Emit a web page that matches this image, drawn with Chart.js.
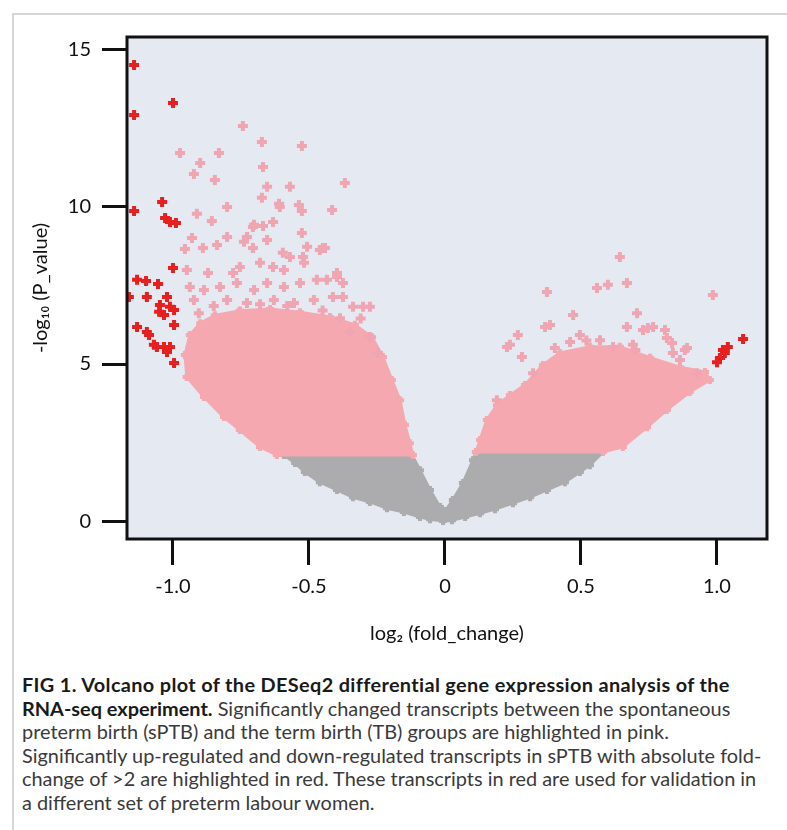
<!DOCTYPE html>
<html>
<head>
<meta charset="utf-8">
<script src="https://cdn.jsdelivr.net/npm/chart.js@4.4.1/dist/chart.umd.min.js"></script>
<style>
  html, body { margin: 0; padding: 0; background: #ffffff; }
  body { width: 787px; height: 830px; position: relative; overflow: hidden; }
  #frame { position: absolute; left: 12px; top: 13px; width: 800px; height: 840px;
           border-top: 2px solid #d6d6d6; border-left: 2px solid #d6d6d6; }
  #wrap { position: absolute; left: 0; top: 0; width: 787px; height: 660px; }
  #caption { position: absolute; left: 22px; top: 673px; font-family: Lato, "Open Sans", sans-serif;
             font-size: 19.9px; line-height: 23.6px; color: #3a3a3a; white-space: nowrap; }
  #caption .b { font-weight: 700; color: #1a1a1a; }
  #caption .l1 { letter-spacing: 0.35px; }
</style>
</head>
<body>
<div id="frame"></div>
<div id="wrap"><canvas id="c" width="787" height="660"></canvas></div>
<div id="caption">
  <div class="l1"><span class="b">FIG 1. Volcano plot of the DESeq2 differential gene expression analysis of the</span></div>
  <div><span class="b">RNA-seq experiment.</span> Significantly changed transcripts between the spontaneous</div>
  <div>preterm birth (sPTB) and the term birth (TB) groups are highlighted in pink.</div>
  <div>Significantly up-regulated and down-regulated transcripts in sPTB with absolute fold-</div>
  <div>change of &gt;2 are highlighted in red. These transcripts in red are used for validation in</div>
  <div>a different set of preterm labour women.</div>
</div>
<script>
// ---- tick labels ----
const xTickValues = [-1, -0.5, 0, 0.5, 1];
const xTickLabels = ['-1.0', '-0.5', '0', '0.5', '1.0'];
const yTickValues = [0, 5, 10, 15];
const yTickLabels = ['0', '5', '10', '15'];

// ---- non-significant transcripts (dense grey band), outline [log2FC, -log10 p] ----
const greyRegion = [
  [-0.592, 2.10], [-0.121, 2.10], [-0.092, 1.62], [-0.055, 0.99], [-0.018, 0.45], [0.0, 0.32],
  [0.029, 0.67], [0.066, 1.21], [0.103, 1.94], [0.114, 2.20], [0.581, 2.20], [0.533, 1.78],
  [0.496, 1.56], [0.441, 1.24], [0.375, 0.99], [0.313, 0.76], [0.25, 0.57], [0.184, 0.38],
  [0.129, 0.25], [0.074, 0.13], [0.026, 0.03], [-0.007, 0.0], [-0.055, 0.06], [-0.092, 0.13],
  [-0.151, 0.29], [-0.213, 0.41], [-0.276, 0.61], [-0.338, 0.76], [-0.397, 0.99], [-0.46, 1.24],
  [-0.515, 1.56], [-0.551, 1.85], [-0.592, 2.10]
];

// ---- significant transcripts, dense pink clouds (outlines) ----
const pinkRegionLeft = [
  [-0.949, 4.59], [-0.956, 5.29], [-0.938, 5.92], [-0.90, 6.30], [-0.846, 6.55], [-0.754, 6.70],
  [-0.643, 6.75], [-0.533, 6.65], [-0.423, 6.50], [-0.331, 6.25], [-0.268, 5.85], [-0.228, 5.22],
  [-0.195, 4.49], [-0.165, 3.85], [-0.147, 3.06], [-0.129, 2.48], [-0.118, 2.10], [-0.618, 2.10],
  [-0.68, 2.36], [-0.754, 2.90], [-0.8125, 3.31], [-0.886, 3.95], [-0.949, 4.59]
];
const pinkRegionRight = [
  [0.114, 2.20], [0.129, 2.58], [0.154, 3.22], [0.191, 3.69], [0.239, 4.01], [0.294, 4.33],
  [0.36, 4.97], [0.423, 5.35], [0.533, 5.55], [0.643, 5.55], [0.754, 5.20], [0.864, 4.90],
  [0.956, 4.75], [0.974, 4.49], [0.90, 4.11], [0.816, 3.54], [0.743, 2.99], [0.654, 2.36],
  [0.581, 2.20], [0.114, 2.20]
];

// ---- significant transcripts, individual pink points ----
const pinkPoints = [
  [-0.743, 12.58], [-0.673, 12.07], [-0.526, 11.94], [-0.974, 11.72], [-0.831, 11.72], [-0.90, 11.40],
  [-0.923, 11.05], [-0.846, 10.86], [-0.669, 11.27], [-0.654, 10.64], [-0.57, 10.64], [-0.368, 10.76],
  [-0.673, 10.29], [-0.61, 10.10], [-0.537, 10.06], [-0.415, 9.90], [-0.526, 9.87], [-0.912, 9.78],
  [-0.857, 9.55], [-0.801, 10.0], [-0.706, 9.36], [-0.669, 9.39], [-0.632, 9.52], [-0.93, 9.01],
  [-0.801, 9.04], [-0.728, 9.04], [-0.654, 8.95], [-0.526, 9.17], [-0.449, 8.69], [-0.956, 8.66],
  [-0.89, 8.69], [-0.838, 8.79], [-0.706, 8.69], [-0.596, 8.54], [-0.68, 8.22], [-0.632, 8.09],
  [-0.522, 8.41], [-0.397, 7.77], [-0.375, 7.58], [-0.871, 7.90], [-0.779, 7.90], [-0.949, 7.99],
  [-0.702, 9.43], [-0.607, 10.0], [-0.739, 8.89], [-0.57, 8.41], [-0.507, 8.73], [-0.46, 8.63],
  [-0.754, 8.09], [-0.592, 7.99], [-0.518, 8.22], [-0.938, 7.45], [-0.886, 7.36], [-0.827, 7.45],
  [-0.765, 7.58], [-0.702, 7.36], [-0.654, 7.58], [-0.592, 7.45], [-0.533, 7.58], [-0.471, 7.68],
  [-0.923, 7.04], [-0.801, 7.04], [-0.728, 6.94], [-0.629, 7.04], [-0.555, 6.94], [-0.482, 7.04],
  [-0.441, 8.69], [-0.397, 7.90], [-0.434, 7.68], [-0.412, 7.13], [-0.375, 7.13], [-0.338, 6.82],
  [-0.301, 6.82], [-0.276, 6.82], [-0.386, 6.46], [-0.349, 6.02], [-0.276, 5.86], [-0.246, 5.35],
  [-0.905, 6.62], [-0.85, 6.85], [-0.68, 6.90], [-0.58, 6.85], [-0.45, 6.70], [-0.31, 6.45],
  [0.643, 8.41], [0.559, 7.42], [0.599, 7.52], [0.669, 7.58], [0.375, 7.29], [0.985, 7.20],
  [0.471, 6.56], [0.706, 6.62], [0.368, 6.18], [0.669, 6.18], [0.728, 6.08], [0.765, 6.18],
  [0.809, 6.08], [0.816, 5.83], [0.268, 5.92], [0.239, 5.61], [0.283, 5.22], [0.324, 4.71],
  [0.404, 5.51], [0.496, 5.92], [0.57, 5.76], [0.618, 5.54], [0.691, 5.61], [0.838, 5.35],
  [0.882, 5.45], [0.926, 4.71], [0.864, 5.13], [0.191, 3.85], [0.386, 6.24], [0.746, 6.15],
  [0.835, 5.67], [0.89, 5.51], [0.228, 5.54], [0.46, 5.70], [0.52, 5.75], [0.70, 5.45]
];

// ---- |fold change| > 2 transcripts (red) ----
const redPoints = [
  [-1.143, 14.52], [-1.0, 13.31], [-1.143, 12.93], [-1.04, 10.16], [-1.143, 9.87], [-1.029, 9.65],
  [-1.011, 9.52], [-0.989, 9.49], [-1.0, 8.06], [-1.132, 7.68], [-1.099, 7.64], [-1.055, 7.55],
  [-1.162, 7.13], [-1.096, 7.13], [-1.022, 7.13], [-1.048, 6.88], [-1.011, 6.82], [-1.051, 6.66],
  [-1.033, 6.56], [-0.996, 6.72], [-0.996, 6.24], [-1.132, 6.18], [-1.096, 6.02], [-1.088, 5.92],
  [-1.07, 5.61], [-1.033, 5.54], [-1.011, 5.54], [-1.022, 5.38], [-0.996, 5.03], [-1.059, 5.54],
  [1.096, 5.80], [1.04, 5.54], [1.029, 5.35], [1.011, 5.19], [1.0, 5.06], [1.022, 5.45]
];

const toXY = arr => arr.map(p => ({ x: p[0], y: p[1] }));

const PLOT_BG = 'rgb(228,233,242)';
const GREY = 'rgb(172,172,174)';
const PINK = 'rgb(246,168,177)';
const PINK_PT = 'rgb(240,166,178)';
const RED = 'rgb(230,32,30)';

const plotBackground = {
  id: 'plotBackground',
  beforeDatasetsDraw(chart) {
    const { ctx, chartArea: a } = chart;
    ctx.save();
    ctx.fillStyle = PLOT_BG;
    ctx.fillRect(a.left, a.top, a.right - a.left, a.bottom - a.top);
    ctx.restore();
  },
  afterDatasetsDraw(chart) {
    const { ctx, chartArea: a } = chart;
    ctx.save();
    ctx.strokeStyle = '#111111';
    ctx.lineWidth = 3;
    ctx.strokeRect(a.left, a.top, a.right - a.left, a.bottom - a.top);
    ctx.restore();
  }
};

const regionDataset = (data, color, order) => ({
  data: toXY(data),
  showLine: true,
  fill: 'shape',
  backgroundColor: color,
  borderColor: color,
  borderWidth: 3,
  tension: 0,
  pointStyle: 'cross',
  pointRadius: 4,
  pointBorderWidth: 4,
  pointBorderColor: color,
  order
});

new Chart(document.getElementById('c'), {
  type: 'scatter',
  data: {
    datasets: [
      {
        label: 'fold change > 2',
        data: toXY(redPoints),
        pointStyle: 'cross',
        pointRadius: 5,
        pointBorderWidth: 4,
        borderColor: RED,
        backgroundColor: RED,
        order: 0
      },
      {
        label: 'significant',
        data: toXY(pinkPoints),
        pointStyle: 'cross',
        pointRadius: 5,
        pointBorderWidth: 4,
        borderColor: PINK_PT,
        backgroundColor: PINK_PT,
        order: 1
      },
      regionDataset(pinkRegionLeft, PINK, 2),
      regionDataset(pinkRegionRight, PINK, 2),
      regionDataset(greyRegion, GREY, 3)
    ]
  },
  options: {
    responsive: false,
    animation: false,
    devicePixelRatio: 1,
    layout: { padding: { left: 0, top: 37, right: 20, bottom: 0 } },
    plugins: { legend: { display: false }, tooltip: { enabled: false } },
    scales: {
      x: {
        type: 'linear',
        min: -1.169,
        max: 1.184,
        afterFit: s => { s.height = 121; },
        afterBuildTicks: s => { s.ticks = xTickValues.map(v => ({ value: v })); },
        border: { display: false },
        grid: { drawOnChartArea: false, drawTicks: true, tickLength: 26, tickWidth: 3, tickColor: '#111111', color: 'rgba(0,0,0,0)' },
        ticks: {
          padding: 10,
          color: '#111111',
          font: { family: 'Lato', size: 20 },
          callback: (v) => xTickLabels[xTickValues.indexOf(v)]
        },
        title: {
          display: true,
          text: 'log₂ (fold_change)',
          color: '#111111',
          font: { family: 'Lato', size: 20 },
          padding: { top: 0, bottom: 14 }
        }
      },
      y: {
        type: 'linear',
        min: -0.57,
        max: 15.41,
        afterFit: s => { s.width = 127; },
        afterBuildTicks: s => { s.ticks = yTickValues.map(v => ({ value: v })); },
        border: { display: false },
        grid: { drawOnChartArea: false, drawTicks: true, tickLength: 25, tickWidth: 3, tickColor: '#111111', color: 'rgba(0,0,0,0)' },
        ticks: {
          padding: 11,
          color: '#111111',
          font: { family: 'Lato', size: 20 },
          callback: (v) => yTickLabels[yTickValues.indexOf(v)]
        },
        title: {
          display: true,
          text: '-log₁₀ (P_value)',
          color: '#111111',
          font: { family: 'Lato', size: 20 },
          padding: { top: 29, bottom: 0 }
        }
      }
    }
  },
  plugins: [plotBackground]
});
</script>
</body>
</html>
